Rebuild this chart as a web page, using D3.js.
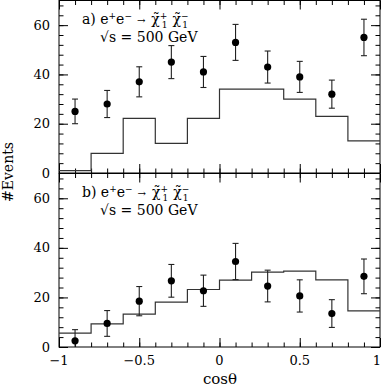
<!DOCTYPE html>
<html>
<head>
<meta charset="utf-8">
<script src="https://cdn.jsdelivr.net/npm/d3@7"></script>
<style>
body{margin:0;background:#fff;}
</style>
</head>
<body>
<div id="chart"></div>
<script>
var W = 382, H = 387;
var left = 59, right = 380;
var FONT = "'DejaVu Serif', 'Liberation Serif', serif";

// bin edges / centres in cos(theta)
var binEdges = [-1,-0.8,-0.6,-0.4,-0.2,0,0.2,0.4,0.6,0.8,1];
var binCenters = [-0.9,-0.7,-0.5,-0.3,-0.1,0.1,0.3,0.5,0.7,0.9];

// panel a
var eventsA = [25,28,37,45,41,53,43,39,32,55];
var errA = [5,5.5,6.1,6.7,6.3,7.3,6.5,6.3,5.7,7.4];
var histA = [1,8,22.2,12,22.2,34,34,30,23,13];

// panel b
var eventsB = [2.5,9.5,18.5,26.7,22.7,34.5,24.6,20.6,13.5,28.5];
var errB = [4.5,5.2,5.9,6.6,6.3,7.3,6.4,6.5,5.6,7];
var histB = [5.6,9.3,13.3,18.1,23.2,27,30.2,30.6,27.1,14.6];

var xMajor = [-1,-0.5,0,0.5,1];
var xTickLabels = ["\u22121","\u22120.5","0","0.5","1"];
var yMajor = [0,20,40,60];

var svg = d3.select("#chart").append("svg")
  .attr("width", W).attr("height", H)
  .attr("font-family", FONT);

var x = d3.scaleLinear().domain([-1,1]).range([left,right]);
var xMinor = d3.range(-10,11).map(function(i){return i/10;});
var yMinor = d3.range(0,71,4);

function panel(top, bottom, events, errs, hist, tag){
  var y = d3.scaleLinear().domain([0,70]).range([bottom, top]);
  var g = svg.append("g");

  // ticks, all pointing inward
  function ax(a, pos, vals, len){
    var s = g.append("g").attr("transform", pos)
      .call(a.tickValues(vals).tickSizeInner(len).tickSizeOuter(0).tickFormat(""));
    s.select(".domain").remove();
    s.selectAll("line").attr("stroke","#000").attr("stroke-width",1);
  }
  ax(d3.axisBottom(x), "translate(0,"+bottom+")", xMinor, -4.5);
  ax(d3.axisBottom(x), "translate(0,"+bottom+")", xMajor, -9);
  ax(d3.axisTop(x), "translate(0,"+top+")", xMinor, -4.5);
  ax(d3.axisTop(x), "translate(0,"+top+")", xMajor, -9);
  ax(d3.axisLeft(y), "translate("+left+",0)", yMinor, -4.5);
  ax(d3.axisLeft(y), "translate("+left+",0)", yMajor, -9);
  ax(d3.axisRight(y), "translate("+right+",0)", yMinor, -4.5);
  ax(d3.axisRight(y), "translate("+right+",0)", yMajor, -9);

  g.append("rect").attr("x",left).attr("y",top)
    .attr("width",right-left).attr("height",bottom-top)
    .attr("fill","none").attr("stroke","#000").attr("stroke-width",1);

  // y tick labels
  g.selectAll(".ylab").data(yMajor).enter().append("text")
    .attr("x", 50).attr("y", function(d){return y(d);})
    .attr("dy","0.35em").attr("text-anchor","end")
    .attr("font-family", FONT)
    .style("font-size","13px").text(function(d){return d;});

  // histogram
  var pts = hist.map(function(v,i){return [binEdges[i], v];});
  pts.push([binEdges[binEdges.length-1], hist[hist.length-1]]);
  g.append("path").datum(pts)
    .attr("fill","none").attr("stroke","#333").attr("stroke-width",1.2)
    .attr("d", d3.line().curve(d3.curveStepAfter)
      .x(function(d){return x(d[0]);}).y(function(d){return y(d[1]);}));

  // error bars
  binCenters.forEach(function(c,i){
    var v = events[i], e = errs[i];
    var lo = Math.max(0, v-e);
    g.append("line").attr("x1",x(c)).attr("x2",x(c))
      .attr("y1",y(v+e)).attr("y2",y(lo))
      .attr("stroke","#222").attr("stroke-width",1.1);
    g.append("line").attr("x1",x(c)-3).attr("x2",x(c)+3)
      .attr("y1",y(v+e)).attr("y2",y(v+e))
      .attr("stroke","#222").attr("stroke-width",1.1);
    if (v-e > 0) {
      g.append("line").attr("x1",x(c)-3).attr("x2",x(c)+3)
        .attr("y1",y(lo)).attr("y2",y(lo))
        .attr("stroke","#222").attr("stroke-width",1.1);
    }
  });
  g.selectAll(".pt").data(events).enter().append("circle")
    .attr("cx", function(d,i){return x(binCenters[i]);})
    .attr("cy", function(d){return y(d);})
    .attr("r", 3.6).attr("fill","#000");

  // process label
  var t = g.append("text").attr("x", 82).attr("y", top+23)
    .attr("font-family", FONT).style("font-size","14px");
  t.append("tspan").text(tag+") e");
  t.append("tspan").attr("dy",-5).style("font-size","9px").text("+");
  t.append("tspan").attr("dy",5).text("e");
  t.append("tspan").attr("dy",-5).style("font-size","9px").text("\u2212");
  t.append("tspan").attr("dy",5).attr("dx",5).style("font-size","10px").text("\u2192");
  t.append("tspan").attr("dx",6).text("\u03C7\u0303");
  t.append("tspan").attr("dy",-5).style("font-size","9px").text("+");
  t.append("tspan").attr("dx",-5.5).attr("dy",9).style("font-size","9px").text("1");
  t.append("tspan").attr("dx",5).attr("dy",-4).text("\u03C7\u0303");
  t.append("tspan").attr("dy",-5).style("font-size","9px").text("\u2212");
  t.append("tspan").attr("dx",-6.5).attr("dy",9).style("font-size","9px").text("1");

  g.append("text").attr("x", 100).attr("y", top+41)
    .attr("font-family", FONT).style("font-size","14px")
    .attr("xml:space","preserve")
    .text("\u221As = 500 GeV");

  return y;
}

panel(0.5, 173, eventsA, errA, histA, "a");
panel(173.5, 347, eventsB, errB, histB, "b");

// x tick labels (last one right-aligned so it stays inside the page)
svg.selectAll(".xlab").data(xMajor).enter().append("text")
  .attr("x", function(d){return d === 1 ? W - 1 : x(d);}).attr("y", 365)
  .attr("text-anchor", function(d){return d === 1 ? "end" : "middle";})
  .style("font-size","13px")
  .attr("font-family", FONT)
  .text(function(d,i){return xTickLabels[i];});

svg.append("text").attr("x", 220).attr("y", 384)
  .attr("text-anchor","middle").style("font-size","15px")
  .attr("font-family", FONT)
  .text("cos\u03B8");

svg.append("text").attr("transform","translate(13,172) rotate(-90)")
  .attr("text-anchor","middle").style("font-size","14px")
  .attr("font-family", FONT)
  .text("#Events");
</script>
</body>
</html>
